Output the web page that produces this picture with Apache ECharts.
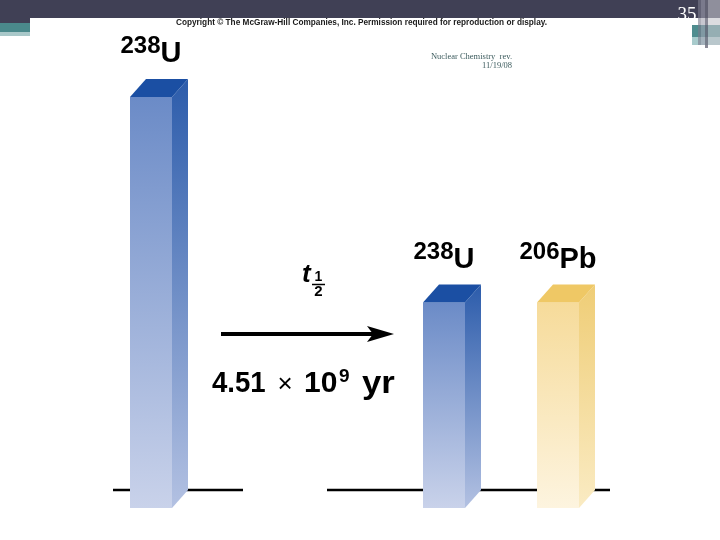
<!DOCTYPE html>
<html>
<head>
<meta charset="utf-8">
<script src="https://cdn.jsdelivr.net/npm/echarts@6/dist/echarts.min.js"></script>
<style>
  html, body { margin: 0; padding: 0; background: #ffffff; }
  #chart { width: 720px; height: 540px; }
</style>
</head>
<body>
<div id="chart"></div>
<script>
// ---- data ----
const beforeMass = ['238'];
const beforeSymbol = ['U'];
const beforeAmount = [100];

const afterMass = ['238', '206'];
const afterSymbol = ['U', 'Pb'];
const afterAmount = [50, 50];

const copyrightText = 'Copyright \u00A9 The McGraw-Hill Companies, Inc. Permission required for reproduction or display.';
const noteLine1 = 'Nuclear Chemistry  rev.';
const noteLine2 = '11/19/08';
const slideNumber = '35';

// ---- styles ----
const palette = {
  U:  { top: '#1b4fa3', frontTop: '#6b8bc7', frontBottom: '#c9d2ea', sideTop: '#2c5cab', sideBottom: '#b3c1e2' },
  Pb: { top: '#efc865', frontTop: '#f6db9a', frontBottom: '#fdf4df', sideTop: '#efcd76', sideBottom: '#faebc3' }
};
const FRONT_W = 42, DEPTH_X = 16, DEPTH_Y = -18;

function grad(c1, c2) {
  return new echarts.graphic.LinearGradient(0, 0, 0, 1, [
    { offset: 0, color: c1 }, { offset: 1, color: c2 }
  ]);
}

function makeRender(massArr, symArr) {
  return function (params, api) {
    const idx = api.value(0);
    const v = api.value(1);
    const top = api.coord([idx, v]);
    const base = api.coord([idx, 0]);
    const cx = top[0];
    const l = cx - FRONT_W / 2, r = cx + FRONT_W / 2;
    const ty = top[1], by = base[1];
    const c = palette[symArr[idx]];
    return {
      type: 'group',
      children: [
        { type: 'rect', shape: { x: l, y: ty, width: FRONT_W, height: by - ty },
          style: { fill: grad(c.frontTop, c.frontBottom) } },
        { type: 'polygon', shape: { points: [[r, ty], [r + DEPTH_X, ty + DEPTH_Y], [r + DEPTH_X, by + DEPTH_Y], [r, by]] },
          style: { fill: grad(c.sideTop, c.sideBottom) } },
        { type: 'polygon', shape: { points: [[l, ty], [r, ty], [r + DEPTH_X, ty + DEPTH_Y], [l + DEPTH_X, ty + DEPTH_Y]] },
          style: { fill: c.top } },
        { type: 'text',
          style: {
            x: cx, y: ty + DEPTH_Y - 10.5,
            align: 'center', verticalAlign: 'bottom',
            text: '{s|' + massArr[idx] + '}{m|' + symArr[idx] + '}',
            rich: {
              s: { fontSize: 24, fontWeight: 'bold', fontFamily: 'Liberation Sans', lineHeight: 10, verticalAlign: 'top', fill: '#000' },
              m: { fontSize: 29, fontWeight: 'bold', fontFamily: 'Liberation Sans', lineHeight: 34, verticalAlign: 'bottom', fill: '#000' }
            }
          } }
      ]
    };
  };
}

// text width helper for condensed text
const mctx = document.createElement('canvas').getContext('2d');
function measure(font, t) { mctx.font = font; return mctx.measureText(t).width; }
const copyW = measure('bold 9px "Liberation Sans"', copyrightText);
const copyScale = 371 / copyW;

const chart = echarts.init(document.getElementById('chart'), null, { renderer: 'canvas' });

const option = {
  backgroundColor: '#ffffff',
  animation: false,
  grid: [
    { left: 113, width: 76, top: 97, bottom: 32 },
    { left: 387, width: 228, top: 97, bottom: 32 }
  ],
  xAxis: [
    { type: 'category', gridIndex: 0, data: beforeSymbol.map((s, i) => beforeMass[i] + s), show: false },
    { type: 'category', gridIndex: 1, data: afterSymbol.map((s, i) => afterMass[i] + s), show: false }
  ],
  yAxis: [
    { type: 'value', gridIndex: 0, min: 0, max: 100, show: false },
    { type: 'value', gridIndex: 1, min: 0, max: 100, show: false }
  ],
  series: [
    { type: 'custom', xAxisIndex: 0, yAxisIndex: 0, z: 5,
      data: beforeAmount.map((v, i) => [i, v]),
      renderItem: makeRender(beforeMass, beforeSymbol) },
    { type: 'custom', xAxisIndex: 1, yAxisIndex: 1, z: 5,
      data: afterAmount.map((v, i) => [i, v]),
      renderItem: makeRender(afterMass, afterSymbol) }
  ],
  graphic: [
    // slide decorations
    { type: 'rect', z: 0, shape: { x: 0, y: 0, width: 720, height: 18 }, style: { fill: '#404055' } },
    { type: 'rect', z: 0, shape: { x: 0, y: 18, width: 30, height: 5 }, style: { fill: '#404055' } },
    { type: 'rect', z: 0, shape: { x: 0, y: 23, width: 30, height: 9 }, style: { fill: '#4a898b' } },
    { type: 'rect', z: 0, shape: { x: 0, y: 32, width: 30, height: 4 }, style: { fill: '#a9c8c9' } },
    { type: 'rect', z: 0, shape: { x: 692, y: 25, width: 28, height: 12 }, style: { fill: '#4f8d8f' } },
    { type: 'rect', z: 0, shape: { x: 692, y: 37, width: 28, height: 8 }, style: { fill: '#a8cbcc' } },
    { type: 'rect', z: 0, shape: { x: 698, y: 0, width: 3, height: 45 }, style: { fill: '#7c7c8c', opacity: 0.6 } },
    { type: 'rect', z: 0, shape: { x: 701, y: 0, width: 4, height: 45 }, style: { fill: '#a2a2b0', opacity: 0.6 } },
    { type: 'rect', z: 0, shape: { x: 705, y: 0, width: 3, height: 48 }, style: { fill: '#6c6c7c', opacity: 0.8 } },
    { type: 'rect', z: 0, shape: { x: 708, y: 0, width: 12, height: 45 }, style: { fill: '#c4c4cc', opacity: 0.6 } },
    { type: 'text', z: 1, style: { x: 687, y: 15, text: slideNumber, align: 'center', verticalAlign: 'middle',
      font: '19px "Liberation Serif"', fill: '#ffffff' } },
    // copyright
    { type: 'text', z: 1, x: 361.5, y: 22.5, scaleX: copyScale,
      style: { x: 0, y: 0, text: copyrightText, align: 'center', verticalAlign: 'middle',
        font: 'bold 9px "Liberation Sans"', fill: '#1a1a1a' } },
    // notes
    { type: 'text', z: 1, style: { x: 512, y: 57, text: noteLine1, align: 'right', verticalAlign: 'middle',
      font: '8.5px "Liberation Serif"', fill: '#3d5c5e' } },
    { type: 'text', z: 1, style: { x: 512, y: 66, text: noteLine2, align: 'right', verticalAlign: 'middle',
      font: '8.5px "Liberation Serif"', fill: '#3d5c5e' } },
    // baselines (behind bars)
    { type: 'line', z: 1, shape: { x1: 113, y1: 490, x2: 243, y2: 490 }, style: { stroke: '#000', lineWidth: 2.5 } },
    { type: 'line', z: 1, shape: { x1: 327, y1: 490, x2: 610, y2: 490 }, style: { stroke: '#000', lineWidth: 2.5 } },
    // arrow
    { type: 'line', z: 1, shape: { x1: 221, y1: 334, x2: 376, y2: 334 }, style: { stroke: '#000', lineWidth: 4 } },
    { type: 'polygon', z: 1, shape: { points: [[367, 326], [394, 334], [367, 342], [373, 334]] }, style: { fill: '#000' } },
    // t 1/2
    { type: 'text', z: 1, style: { x: 302, y: 275, text: 't', align: 'left', verticalAlign: 'middle',
      font: 'italic bold 26px "Liberation Sans"', fill: '#000' } },
    { type: 'text', z: 1, style: { x: 318.5, y: 277.5, text: '1', align: 'center', verticalAlign: 'middle',
      font: 'bold 14px "Liberation Sans"', fill: '#000' } },
    { type: 'line', z: 1, shape: { x1: 312, y1: 284.5, x2: 325, y2: 284.5 }, style: { stroke: '#000', lineWidth: 1.5 } },
    { type: 'text', z: 1, style: { x: 318.5, y: 291.5, text: '2', align: 'center', verticalAlign: 'middle',
      font: 'bold 15px "Liberation Sans"', fill: '#000' } },
    // half-life value
    { type: 'text', z: 1, x: 212, y: 384, scaleX: 0.92,
      style: { x: 0, y: 0, text: '4.51', align: 'left', verticalAlign: 'middle',
      font: 'bold 30px "Liberation Sans"', fill: '#000' } },
    { type: 'text', z: 1, style: { x: 285, y: 385, text: '\u00D7', align: 'center', verticalAlign: 'middle',
      font: '26px "Liberation Sans"', fill: '#000' } },
    { type: 'text', z: 1, style: { x: 304, y: 384, text: '10', align: 'left', verticalAlign: 'middle',
      font: 'bold 30px "Liberation Sans"', fill: '#000' } },
    { type: 'text', z: 1, style: { x: 339, y: 376.5, text: '9', align: 'left', verticalAlign: 'middle',
      font: 'bold 19px "Liberation Sans"', fill: '#000' } },
    { type: 'text', z: 1, x: 362, y: 384, scaleX: 1.12,
      style: { x: 0, y: 0, text: 'yr', align: 'left', verticalAlign: 'middle',
      font: 'bold 31px "Liberation Sans"', fill: '#000' } }
  ]
};
chart.setOption(option);
</script>
</body>
</html>
